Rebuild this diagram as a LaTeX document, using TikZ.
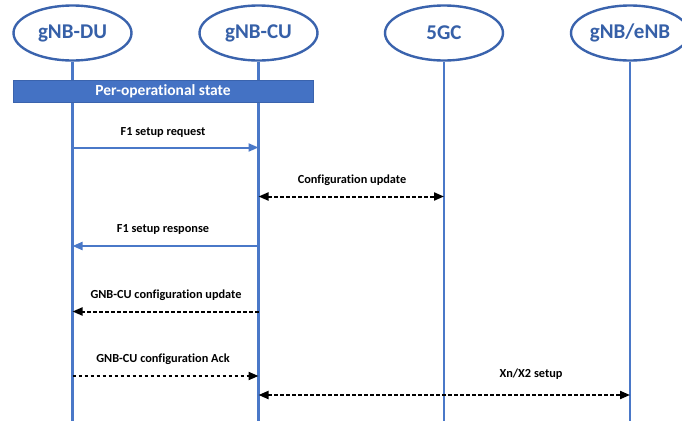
\documentclass[tikz,border=0pt]{standalone}
\usepackage{fontspec}
\setmainfont{Carlito}[Ligatures=NoCommon]
\usetikzlibrary{shapes.geometric,arrows.meta}
\definecolor{elline}{HTML}{3A63AD}
\definecolor{eltext}{HTML}{3660A8}
\definecolor{life}{HTML}{4A78C8}
\definecolor{barfill}{HTML}{4472C4}
\definecolor{barline}{HTML}{3A63AD}
\tikzset{
  entity/.style={ellipse, draw=elline, line width=2.4pt, fill=white,
    minimum width=118pt, minimum height=55pt, inner sep=0pt,
    font=\fontsize{21}{22}\selectfont\bfseries, text=eltext},
  lifeline/.style={draw=life, line width=2.2pt},
  msg/.style={font=\fontsize{12.3}{13}\selectfont\bfseries, inner sep=0pt},
  solidmsg/.style={draw=life, line width=2pt, -{Triangle[length=10pt,width=8pt]}},
  dashmsg/.style={draw=black, line width=2pt, dash pattern=on 3.5pt off 2.5pt,
    {Triangle[length=10pt,width=8pt]}-{Triangle[length=10pt,width=8pt]}},
  dashone/.style={draw=black, line width=2pt, dash pattern=on 3.5pt off 2.5pt,
    -{Triangle[length=10pt,width=8pt]}},
}
\begin{document}
\begin{tikzpicture}[x=1pt,y=-1pt]
\useasboundingbox (0,0) rectangle (682,421);
\clip (0,0) rectangle (682,421);
% entities
\node[entity] (du) at (72.5,33) {gNB-DU};
\node[entity] (cu) at (258.5,33) {gNB-CU};
\node[entity] (gc) at (444,33) {5GC};
\node[entity] (nb) at (630,33) {gNB/eNB};
% lifeline ends
\coordinate (duE) at (72.5,421);
\coordinate (cuE) at (258.5,421);
\coordinate (gcE) at (444,421);
\coordinate (nbE) at (630,421);
\draw[lifeline] (du.south) -- (duE);
\draw[lifeline] (cu.south) -- (cuE);
\draw[lifeline] (gc.south) -- (gcE);
\draw[lifeline] (nb.south) -- (nbE);
% state bar
\node[draw=barline, line width=0.8pt, fill=barfill, text=white,
  minimum width=300pt, minimum height=22pt, inner sep=0pt,
  font=\fontsize{15.5}{16}\selectfont\bfseries] (bar) at (163,91) {Per-operational state};
% message anchor coordinates
\coordinate (du1) at (72.5,147.5);  \coordinate (cu1) at (258.5,147.5);
\coordinate (cu2) at (258.5,196.5); \coordinate (gc2) at (444,196.5);
\coordinate (cu3) at (258.5,246);   \coordinate (du3) at (72.5,246);
\coordinate (cu4) at (258.5,311.5); \coordinate (du4) at (72.5,311.5);
\coordinate (du5) at (72.5,376);    \coordinate (cu5) at (258.5,376);
\coordinate (cu6) at (258.5,395);   \coordinate (nb6) at (630,395);
% messages
\draw[solidmsg] (du1) -- (cu1);
\node[msg] (l1) at (163,132.5) {F1 setup request};
\draw[dashmsg] (cu2) -- (gc2);
\node[msg] (l2) at (352,180.5) {Configuration update};
\draw[solidmsg] (cu3) -- (du3);
\node[msg] (l3) at (163,229) {F1 setup response};
\draw[dashone] (cu4) -- (du4);
\node[msg] (l4) at (166,295) {GNB-CU configuration update};
\draw[dashone] (du5) -- (cu5);
\node[msg] (l5) at (163,359.5) {GNB-CU configuration Ack};
\draw[dashmsg] (cu6) -- (nb6);
\node[msg] (l6) at (531,374) {Xn/X2 setup};
\end{tikzpicture}
\end{document}
